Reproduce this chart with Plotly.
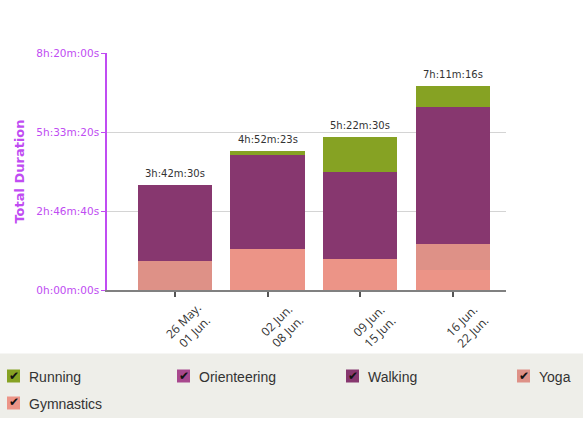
import plotly.graph_objects as go

# Semaines (catégories) et durées en secondes par activité
weeks = ["26 May.<br>01 Jun.", "02 Jun.<br>08 Jun.", "09 Jun.<br>15 Jun.", "16 Jun.<br>22 Jun."]
gymnastics = [0, 5225, 3950, 2490]
yoga = [3660, 0, 0, 3320]
walking = [9690, 11848, 10930, 17326]
orienteering = [0, 0, 0, 0]
running = [0, 470, 4470, 2740]

y_ticks = [0, 10000, 20000, 30000]

# ordre d'empilement (du bas vers le haut)
series = [
    ("Gymnastics", gymnastics),
    ("Yoga", yoga),
    ("Walking", walking),
    ("Orienteering", orienteering),
    ("Running", running),
]
colors = {
    "Running": "#86A223",
    "Orienteering": "#A8488E",
    "Walking": "#87376F",
    "Yoga": "#DE9187",
    "Gymnastics": "#EC9487",
}
legend_order = ["Running", "Orienteering", "Walking", "Yoga", "Gymnastics"]

PURPLE = "#C04CF2"
W, H = 583, 428
L, R, T, B = 107, 77, 53, 138


def fmt(s):
    s = int(round(s))
    return f"{s // 3600}h:{(s % 3600) // 60:02d}m:{s % 60:02d}s"


totals = [sum(v[i] for _, v in series) for i in range(len(weeks))]

fig = go.Figure()
for name, vals in series:
    fig.add_trace(go.Bar(
        x=weeks, y=vals, name=name,
        marker=dict(color=colors[name], line=dict(width=0)),
        width=0.8, showlegend=False, hoverinfo="skip",
    ))

# conversion pixels -> coordonnées paper
pw, ph = W - L - R, H - T - B


def px(x):
    return (x - L) / pw


def py(y):
    return (H - B - y) / ph


annotations = []
# étiquettes des totaux
for wk, tot in zip(weeks, totals):
    annotations.append(dict(x=wk, y=tot, text=fmt(tot), showarrow=False,
                            yanchor="bottom", yshift=4,
                            font=dict(family="DejaVu Sans", size=10, color="#333333")))

# étiquettes de l'axe x, tournées autour de leur centre
for wk in weeks:
    annotations.append(dict(x=wk, xref="x", yref="paper", y=py(326), xshift=14,
                            text=wk, textangle=-45, showarrow=False,
                            xanchor="center", yanchor="middle",
                            font=dict(family="Open Sans", size=12, color="#333333")))

shapes = [dict(type="rect", xref="paper", yref="paper",
               x0=px(0), x1=px(W), y0=py(353.5), y1=py(418),
               fillcolor="#EEEEE9", line=dict(width=0), layer="below")]
slots = [(7, 376), (177, 376), (346, 376), (517, 376), (7, 403)]
for name, (lx, ly) in zip(legend_order, slots):
    shapes.append(dict(type="rect", xref="paper", yref="paper",
                       x0=px(lx), x1=px(lx + 13), y0=py(ly + 6.5), y1=py(ly - 6.5),
                       fillcolor=colors[name], line=dict(width=0)))
    annotations.append(dict(xref="paper", yref="paper", x=px(lx + 6.5), y=py(ly - 0.5),
                            text="✔", showarrow=False, xanchor="center", yanchor="middle",
                            font=dict(family="DejaVu Sans", size=12, color="#111111")))
    annotations.append(dict(xref="paper", yref="paper", x=px(lx + 19.5), y=py(ly + 1),
                            text=name, showarrow=False, xanchor="left", yanchor="middle",
                            font=dict(family="Liberation Sans", size=14, color="#333333")))

fig.update_layout(
    barmode="stack",
    width=W, height=H,
    margin=dict(l=L, r=R, t=T, b=B, autoexpand=False),
    paper_bgcolor="white", plot_bgcolor="white",
    shapes=shapes, annotations=annotations,
    showlegend=False,
)
fig.update_xaxes(
    range=[-0.73, 3.57],
    showline=True, linecolor="#808080", linewidth=2,
    ticks="outside", ticklen=5, tickcolor="#555555", tickwidth=1.5,
    showticklabels=False,
    showgrid=False,
)
fig.update_yaxes(
    range=[0, 30000],
    tickvals=y_ticks, ticktext=[fmt(v) for v in y_ticks],
    showline=True, linecolor=PURPLE, linewidth=1.5,
    ticks="outside", ticklen=4, tickcolor=PURPLE,
    tickfont=dict(family="DejaVu Sans", size=10.5, color=PURPLE),
    showgrid=True, gridcolor="#D4D4D4", gridwidth=1,
    zeroline=False,
    title=dict(text="<b>Total Duration</b>", standoff=9,
               font=dict(family="DejaVu Sans", size=13, color=PURPLE)),
)

# la page n'a pas de marge autour du graphique
fig.write_html("out.html", config={"displayModeBar": False},
               post_script="document.body.style.margin='0';")
